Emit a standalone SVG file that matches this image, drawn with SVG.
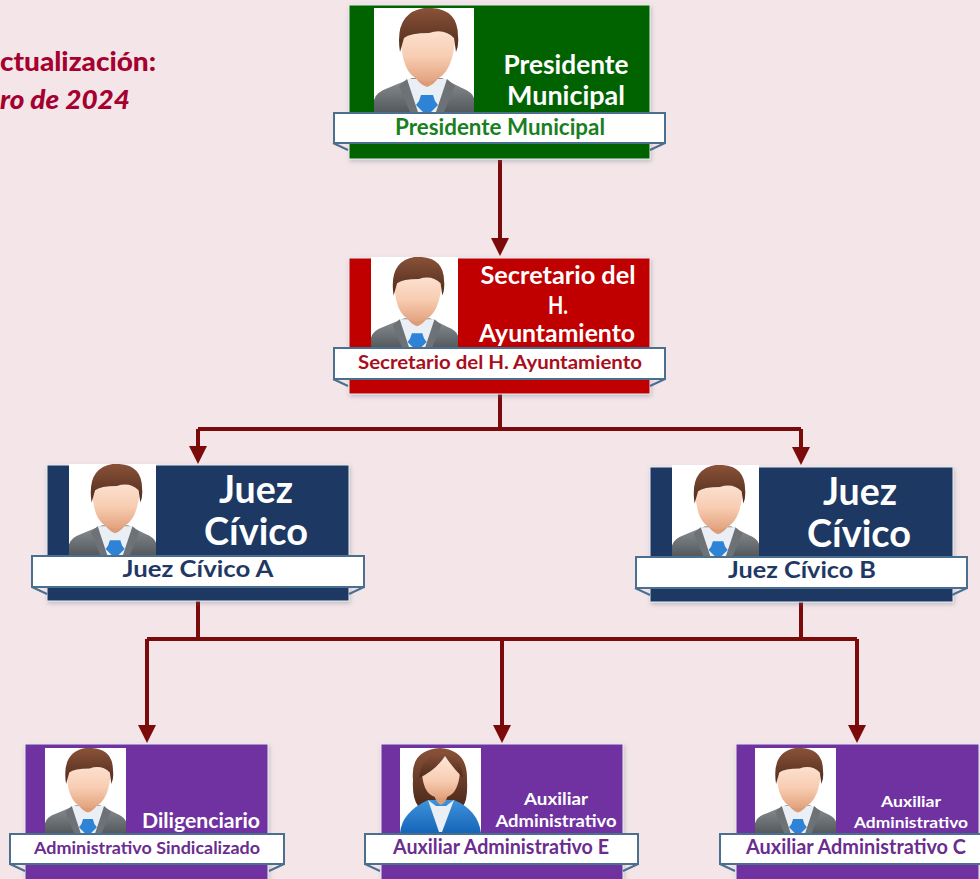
<svg xmlns="http://www.w3.org/2000/svg" width="980" height="879" viewBox="0 0 980 879">
<defs>
<linearGradient id="skin" x1="0" y1="0" x2="0" y2="1"><stop offset="0" stop-color="#fdeadf"/><stop offset="0.6" stop-color="#f8cdb2"/><stop offset="1" stop-color="#e2a27e"/></linearGradient>
<linearGradient id="hair" x1="0" y1="0" x2="0" y2="1"><stop offset="0" stop-color="#8a5238"/><stop offset="1" stop-color="#4d2a1c"/></linearGradient>
<linearGradient id="suit" x1="0" y1="0" x2="0" y2="1"><stop offset="0" stop-color="#8b9094"/><stop offset="1" stop-color="#54595e"/></linearGradient>
<linearGradient id="blazer" x1="0" y1="0" x2="0" y2="1"><stop offset="0" stop-color="#3f93dc"/><stop offset="1" stop-color="#1565b8"/></linearGradient>
<filter id="soft" x="-5%" y="-5%" width="110%" height="115%"><feDropShadow dx="1" dy="2" stdDeviation="2" flood-color="#5a6b80" flood-opacity="0.35"/></filter>
<marker id="arrow" markerUnits="userSpaceOnUse" markerWidth="18" markerHeight="18" refX="1" refY="9" viewBox="0 0 18 18" orient="auto"><path d="M0 0L18 9L0 18Z" fill="#7b0a0a"/></marker>
<symbol id="man" viewBox="0 0 100 104" preserveAspectRatio="none">
<rect width="100" height="104" fill="#fff"/>
<path d="M0 104V92Q2 84 14 80L38 70H68L88 80Q98 84 100 90V104Z" fill="url(#suit)"/>
<path d="M33 71H73L67 104H39Z" fill="#e9eff4"/>
<path d="M33 71L25 78L36 104H44ZM73 71L81 78L70 104H62Z" fill="#6d7277"/>
<path d="M47 87H59L61 93L64 97L57 104H49L42 97L45 93Z" fill="#2f83d6"/>
<path d="M38 55Q39 74 53 79Q67 74 68 55Z" fill="#dd9c78"/>
<path d="M27 32Q28 72 53 74Q78 72 81 32Q76 10 53 10Q32 10 27 32Z" fill="url(#skin)"/>
<path d="M26 44Q20 5 50 0Q84 -2 84 28Q85 37 82 44L80 30Q70 20 55 25Q36 25 30 30Z" fill="url(#hair)"/>
</symbol>
<symbol id="woman" viewBox="0 0 81 85" preserveAspectRatio="none">
<rect width="81" height="85" fill="#fff"/>
<path d="M13 32Q10 2 40 0Q68 2 67 32Q68 52 63 58H18Q12 50 13 32Z" fill="url(#hair)"/>
<path d="M0 85Q2 64 28 52H54Q78 62 81 85Z" fill="url(#blazer)"/>
<path d="M28 52L39 84L42 84L54 52L46 58H36Z" fill="#e9eff4"/>
<path d="M33 40Q34 54 41 57Q48 54 49 40Z" fill="#dd9c78"/>
<path d="M22 24Q23 50 41 50Q58 50 60 24Q55 8 40 6Q27 10 22 24Z" fill="url(#skin)"/>
<path d="M19 30Q22 5 44 4Q62 8 63 30Q53 20 45 8Q36 22 19 30Z" fill="url(#hair)"/>
</symbol>
</defs>
<style>
.card{filter:url(#soft)}
.banner{fill:#fff;stroke:#4a6f8f;stroke-width:2}
.fold{fill:none;stroke:#4a6f8f;stroke-width:2}
.t{font-family:"Lato","Noto Sans",sans-serif;font-weight:700;text-anchor:middle}
.w{fill:#fff}
.conn{fill:none;stroke:#7b0a0a;stroke-width:4}
.note{font-family:"Lato","Noto Sans",sans-serif;font-weight:900;fill:#a5002f;font-size:27px}
</style>
<rect width="980" height="879" fill="#f4e6e8"/>
<text class="note" x="0" y="71" textLength="156" lengthAdjust="spacingAndGlyphs">ctualización:</text>
<text class="note" x="0" y="109" font-style="italic" textLength="130" lengthAdjust="spacingAndGlyphs">ro de 2024</text>
<g id="connectors" class="conn">
<path d="M500 160V239" marker-end="url(#arrow)"/>
<path d="M500 394V429"/>
<path d="M198 429H801"/>
<path d="M198 429V447" marker-end="url(#arrow)"/>
<path d="M801 429V448" marker-end="url(#arrow)"/>
<path d="M198 601V639"/>
<path d="M801 602V639"/>
<path d="M147 639H857"/>
<path d="M147 639V726" marker-end="url(#arrow)"/>
<path d="M502 639V726" marker-end="url(#arrow)"/>
<path d="M857 639V726" marker-end="url(#arrow)"/>
</g>
<g id="presidente">
<rect class="card" x="349" y="5" width="301" height="154" fill="#006400" stroke="#e6eef0"/>
<use href="#man" x="374" y="8" width="100" height="104"/>
<text class="t w" x="566" y="74" font-size="27" textLength="125" lengthAdjust="spacingAndGlyphs">Presidente</text>
<text class="t w" x="566" y="105" font-size="27" textLength="118" lengthAdjust="spacingAndGlyphs">Municipal</text>
<path class="fold" d="M333 143L348 150"/><path class="fold" d="M665 143L650 150"/>
<rect class="banner" x="334" y="113" width="331" height="30"/>
<text class="t" x="500" y="135" font-size="22" fill="#1a7f22" textLength="210" lengthAdjust="spacingAndGlyphs">Presidente Municipal</text>
</g>
<g id="secretario">
<rect class="card" x="349" y="258" width="301" height="136" fill="#c00000" stroke="#e6eef0"/>
<use href="#man" x="371" y="257" width="87" height="91"/>
<text class="t w" x="558" y="284" font-size="25" textLength="155" lengthAdjust="spacingAndGlyphs">Secretario del</text>
<text class="t w" x="558" y="314" font-size="25" textLength="20" lengthAdjust="spacingAndGlyphs">H.</text>
<text class="t w" x="557" y="342" font-size="25" textLength="156" lengthAdjust="spacingAndGlyphs">Ayuntamiento</text>
<path class="fold" d="M333 379L348 386"/><path class="fold" d="M665 379L650 386"/>
<rect class="banner" x="334" y="348" width="331" height="31"/>
<text class="t" x="500" y="369" font-size="19" fill="#a80f1c" textLength="284" lengthAdjust="spacingAndGlyphs">Secretario del H. Ayuntamiento</text>
</g>
<g id="juez-a">
<rect class="card" x="47" y="465" width="302" height="136" fill="#1f3864" stroke="#e6eef0"/>
<use href="#man" x="69" y="464" width="87" height="91"/>
<text class="t w" x="256" y="503" font-size="38" textLength="74" lengthAdjust="spacingAndGlyphs">Juez</text>
<text class="t w" x="256" y="545" font-size="38" textLength="104" lengthAdjust="spacingAndGlyphs">Cívico</text>
<path class="fold" d="M32 587L47 594"/><path class="fold" d="M364 587L349 594"/>
<rect class="banner" x="32" y="556" width="332" height="31"/>
<text class="t" x="198" y="577" font-size="22" fill="#1f3864" textLength="151" lengthAdjust="spacingAndGlyphs">Juez Cívico A</text>
</g>
<g id="juez-b">
<rect class="card" x="650" y="467" width="303" height="135" fill="#1f3864" stroke="#e6eef0"/>
<use href="#man" x="672" y="465" width="87" height="91"/>
<text class="t w" x="860" y="505" font-size="38" textLength="74" lengthAdjust="spacingAndGlyphs">Juez</text>
<text class="t w" x="859" y="547" font-size="38" textLength="104" lengthAdjust="spacingAndGlyphs">Cívico</text>
<path class="fold" d="M635 588L650 595"/><path class="fold" d="M967 588L952 595"/>
<rect class="banner" x="636" y="557" width="331" height="31"/>
<text class="t" x="802" y="578" font-size="22" fill="#1f3864" textLength="148" lengthAdjust="spacingAndGlyphs">Juez Cívico B</text>
</g>
<g id="diligenciario">
<rect class="card" x="25" y="744" width="243" height="140" fill="#7030a0" stroke="#e6eef0"/>
<use href="#man" x="45" y="748" width="81" height="85"/>
<text class="t w" x="201" y="828" font-size="21" textLength="118" lengthAdjust="spacingAndGlyphs">Diligenciario</text>
<path class="fold" d="M10 864L25 871"/><path class="fold" d="M284 864L269 871"/>
<rect class="banner" x="10" y="834" width="274" height="30"/>
<text class="t" x="147" y="854" font-size="17" fill="#6a2d8f" textLength="226" lengthAdjust="spacingAndGlyphs">Administrativo Sindicalizado</text>
</g>
<g id="auxiliar-e">
<rect class="card" x="381" y="744" width="242" height="140" fill="#7030a0" stroke="#e6eef0"/>
<use href="#woman" x="400" y="748" width="81" height="85"/>
<text class="t w" x="556" y="805" font-size="17" textLength="64" lengthAdjust="spacingAndGlyphs">Auxiliar</text>
<text class="t w" x="556" y="827" font-size="17" textLength="121" lengthAdjust="spacingAndGlyphs">Administrativo</text>
<path class="fold" d="M365 864L380 871"/><path class="fold" d="M638 864L623 871"/>
<rect class="banner" x="365" y="834" width="273" height="30"/>
<text class="t" x="501" y="854" font-size="20" fill="#6a2d8f" textLength="216" lengthAdjust="spacingAndGlyphs">Auxiliar Administrativo E</text>
</g>
<g id="auxiliar-c">
<rect class="card" x="736" y="744" width="243" height="140" fill="#7030a0" stroke="#e6eef0"/>
<use href="#man" x="755" y="748" width="81" height="85"/>
<text class="t w" x="911" y="807" font-size="16" textLength="60" lengthAdjust="spacingAndGlyphs">Auxiliar</text>
<text class="t w" x="911" y="828" font-size="16" textLength="114" lengthAdjust="spacingAndGlyphs">Administrativo</text>
<path class="fold" d="M720 864L735 871"/>
<rect class="banner" x="720" y="834" width="274" height="30"/>
<text class="t" x="856" y="854" font-size="20" fill="#6a2d8f" textLength="220" lengthAdjust="spacingAndGlyphs">Auxiliar Administrativo C</text>
</g>
</svg>
